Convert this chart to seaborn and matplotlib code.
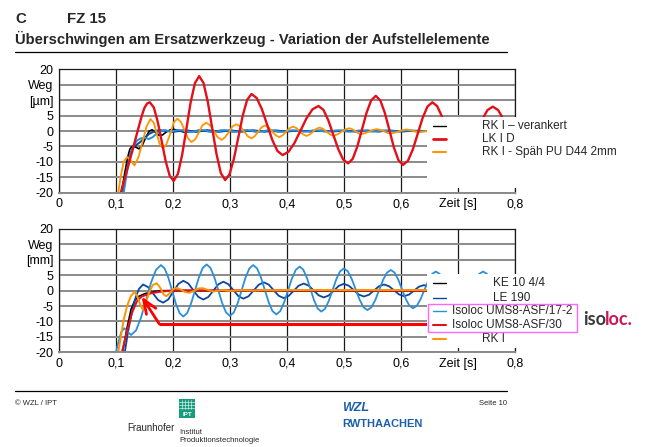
import matplotlib
matplotlib.use("Agg")
import matplotlib.pyplot as plt
import seaborn as sns
import pandas as pd
from matplotlib.patches import Rectangle
from matplotlib.lines import Line2D

# === Data ===
# upper chart, Weg in µm over Zeit in s
top_black_t = [0.109, 0.115, 0.120, 0.124, 0.128, 0.134, 0.140, 0.146, 0.152, 0.158, 0.163, 0.168, 0.175,
               0.181, 0.188, 0.195, 0.202, 0.210, 0.220, 0.230, 0.245, 0.265, 0.285, 0.305, 0.325, 0.345,
               0.365, 0.385, 0.405, 0.425, 0.445, 0.465, 0.485, 0.505, 0.525, 0.545, 0.565, 0.585, 0.605,
               0.625, 0.645]
top_black_v = [-20, -13.5, -8.5, -5.8, -5.0, -5.2, -5.8, -4.5, -2.0, 0.0, 0.4, -0.3, -1.4,
               -1.3, -0.3, 0.4, 0.5, 0.1, -0.4, -0.2, 0.2, -0.2, 0.2, -0.2, 0.2, -0.2,
               0.1, -0.2, 0.1, -0.1, 0.1, -0.1, 0.1, -0.1, 0.1, -0.1, 0.1, -0.1, 0.1,
               -0.1, 0.0]

top_dblue_t = [0.112, 0.118, 0.124, 0.130, 0.136, 0.142, 0.150, 0.158, 0.166, 0.175, 0.185, 0.200,
               0.220, 0.240, 0.260, 0.280, 0.300, 0.320, 0.340, 0.360, 0.380, 0.400, 0.420, 0.440,
               0.460, 0.480, 0.500, 0.520, 0.540, 0.560, 0.580, 0.600, 0.620, 0.645]
top_dblue_v = [-20, -13, -7.5, -5.2, -4.4, -3.6, -2.2, -0.9, -0.2, 0.3, 0.1, -0.3,
               0.3, -0.3, 0.3, -0.3, 0.25, -0.25, 0.25, -0.25, 0.2, -0.2, 0.2, -0.2,
               0.2, -0.2, 0.2, -0.2, 0.2, -0.2, 0.2, -0.2, 0.1, 0.0]

top_lblue_t = [0.113, 0.119, 0.125, 0.131, 0.137, 0.143, 0.150, 0.157, 0.164, 0.171, 0.178, 0.186,
               0.195, 0.210, 0.230, 0.250, 0.270, 0.290, 0.310, 0.330, 0.350, 0.370, 0.390, 0.410,
               0.430, 0.450, 0.470, 0.490, 0.510, 0.530, 0.550, 0.570, 0.590, 0.610, 0.630, 0.645]
top_lblue_v = [-20, -13, -7.5, -4.5, -3.0, -2.4, -2.2, -2.6, -2.0, -0.8, -0.1, 0.3,
               -0.2, 0.35, -0.35, 0.35, -0.35, 0.3, -0.3, 0.3, -0.3, 0.3, -0.3, 0.25,
               -0.25, 0.25, -0.25, 0.25, -0.25, 0.2, -0.2, 0.2, -0.2, 0.2, -0.1, 0.0]

top_orange_t = [0.1035, 0.108, 0.113, 0.119, 0.125, 0.132, 0.139, 0.146, 0.153, 0.160, 0.166, 0.171,
                0.176, 0.182, 0.188, 0.195, 0.201, 0.2075, 0.214, 0.220, 0.226, 0.232, 0.239, 0.245,
                0.251, 0.258, 0.265, 0.2715, 0.278, 0.285, 0.291, 0.298, 0.304, 0.311, 0.318, 0.324,
                0.331, 0.3375, 0.343, 0.349, 0.355, 0.361, 0.367, 0.3735, 0.380, 0.386, 0.392, 0.398,
                0.404, 0.4105, 0.416, 0.422, 0.428, 0.434, 0.440, 0.4455, 0.451, 0.457, 0.463, 0.469,
                0.475, 0.481, 0.488, 0.495, 0.502, 0.509, 0.514, 0.5195, 0.525, 0.530, 0.537, 0.5435,
                0.550, 0.557, 0.563, 0.570, 0.576, 0.583, 0.590, 0.5965, 0.603, 0.610, 0.620, 0.630,
                0.640, 0.647]
top_orange_v = [-20, -14.5, -10.0, -8.4, -9.5, -11.2, -8.5, -3.6, 1.4, 3.9, 2.6, -0.9,
                -4.1, -5.7, -4.3, -0.8, 2.8, 4.0, 2.8, 0.2, -2.4, -3.6, -2.6, -0.5,
                1.8, 2.7, 1.8, -0.1, -2.0, -2.9, -2.0, -0.3, 1.5, 2.2, 1.5, -0.1,
                -1.7, -2.4, -1.7, -0.3, 1.2, 1.8, 1.2, -0.1, -1.4, -2.0, -1.4, -0.3,
                0.9, 1.4, 1.0, -0.1, -1.1, -1.6, -1.1, -0.2, 0.7, 1.1, 0.7, -0.2,
                -1.1, -1.6, -1.1, -0.3, 0.5, 0.9, 0.6, 0.0, -0.7, -1.0, -0.7, -0.2,
                0.3, 0.6, 0.4, -0.1, -0.6, -0.8, -0.5, -0.1, 0.3, 0.5, 0.1, -0.4,
                -0.2, 0.0]

top_red_t = [0.108, 0.118, 0.128, 0.1375, 0.144, 0.149, 0.154, 0.159,
             0.1660, 0.1729, 0.1799, 0.1868, 0.1938, 0.2007,
             0.2082, 0.2157, 0.2232, 0.2306, 0.2381, 0.2456,
             0.2532, 0.2608, 0.2684, 0.2760, 0.2836, 0.2912,
             0.2989, 0.3066, 0.3144, 0.3221, 0.3298, 0.3375,
             0.3466, 0.3557, 0.3648, 0.3738, 0.3829, 0.3920,
             0.4025, 0.4130, 0.4235, 0.4340, 0.4445, 0.4550,
             0.4637, 0.4723, 0.4810, 0.4897, 0.4983, 0.5070,
             0.5151, 0.5232, 0.5313, 0.5394, 0.5475, 0.5556,
             0.5636, 0.5716, 0.5796, 0.5875, 0.5955, 0.6035,
             0.6121, 0.6207, 0.6293, 0.6378, 0.6464, 0.6550,
             0.6633, 0.6717, 0.6800, 0.6883, 0.6967, 0.7050,
             0.7143, 0.7237, 0.7330, 0.7423, 0.7517, 0.7610,
             0.7703, 0.7797, 0.7890, 0.7983, 0.8000]
top_red_v = [-20, -13.3, -6.6, 0.0, 4.4, 7.3, 8.9, 9.3,
             7.59, 2.93, -3.45, -9.83, -14.49, -16.2,
             -13.92, -7.7, 0.8, 9.3, 15.52, 17.8,
             15.54, 9.38, 0.95, -7.48, -13.64, -15.9,
             -14.03, -8.93, -1.95, 5.03, 10.13, 12.0,
             10.67, 7.05, 2.1, -2.85, -6.47, -7.8,
             -6.73, -3.83, 0.15, 4.13, 7.03, 8.1,
             6.85, 3.45, -1.2, -5.85, -9.25, -10.5,
             -9.03, -5.03, 0.45, 5.93, 9.93, 11.4,
             9.9, 5.8, 0.2, -5.4, -9.5, -11.0,
             -9.64, -5.93, -0.85, 4.23, 7.94, 9.3,
             8.07, 4.73, 0.15, -4.43, -7.77, -9.0,
             -7.87, -4.78, -0.55, 3.68, 6.77, 7.9,
             6.8, 3.8, -0.3, -4.4, -5.0]

# lower chart, Weg in mm over Zeit in s
bot_black_t = [0.111, 0.119, 0.126, 0.133, 0.140, 0.150, 0.165, 0.180, 0.645]
bot_black_v = [-20, -12, -6, -3, -1.8, -1.0, -0.3, 0.0, 0.0]

bot_dblue_t = [0.115, 0.121, 0.128, 0.134, 0.140, 0.147,
               0.1558, 0.1647, 0.1735, 0.1823, 0.1912, 0.2000, 0.2089, 0.2177,
               0.2265, 0.2353, 0.2440, 0.2528, 0.2616, 0.2704, 0.2792, 0.2880,
               0.2968, 0.3057, 0.3145, 0.3233, 0.3322, 0.3412, 0.3501, 0.3590,
               0.3677, 0.3764, 0.3851, 0.3938, 0.4026, 0.4114, 0.4202, 0.4290,
               0.4378, 0.4467, 0.4555, 0.4643, 0.4731, 0.4819, 0.4907, 0.4995,
               0.5083, 0.5172, 0.5260, 0.5348, 0.5436, 0.5524, 0.5612, 0.5700,
               0.5788, 0.5877, 0.5965, 0.6053, 0.6140, 0.6227, 0.6313, 0.6400,
               0.6500]
bot_dblue_v = [-20, -13, -6.5, -2.2, 0.6, 2.0,
               1.14, -0.95, -3.04, -3.9, -2.86, -0.35, 2.16, 3.2,
               2.31, 0.15, -2.01, -2.9, -2.05, 0.0, 2.05, 2.9,
               2.09, 0.15, -1.79, -2.6, -1.82, 0.05, 1.92, 2.7,
               1.95, 0.15, -1.65, -2.4, -1.71, -0.05, 1.61, 2.3,
               1.64, 0.05, -1.54, -2.2, -1.56, 0.0, 1.56, 2.2,
               1.6, 0.15, -1.3, -1.9, -1.33, 0.05, 1.43, 2.0,
               1.44, 0.1, -1.24, -1.8, -1.27, 0.0, 1.27, 1.8,
               1.3]

bot_lblue_t = [0.0995, 0.104, 0.109, 0.114, 0.120, 0.126,
               0.1348, 0.1435, 0.1523, 0.1610, 0.1698, 0.1785,
               0.1850, 0.1916, 0.1981, 0.2046, 0.2112, 0.2177,
               0.2245, 0.2313, 0.2382, 0.2450, 0.2518, 0.2586,
               0.2654, 0.2722, 0.2791, 0.2859, 0.2927, 0.2995,
               0.3063, 0.3131, 0.3200, 0.3268, 0.3336, 0.3404,
               0.3472, 0.3540, 0.3607, 0.3675, 0.3742, 0.3810,
               0.3878, 0.3947, 0.4015, 0.4083, 0.4152, 0.4220,
               0.4283, 0.4347, 0.4410, 0.4473, 0.4537, 0.4600,
               0.4666, 0.4732, 0.4798, 0.4863, 0.4929, 0.4995,
               0.5064, 0.5133, 0.5203, 0.5272, 0.5341, 0.5410,
               0.5478, 0.5547, 0.5615, 0.5683, 0.5752, 0.5820,
               0.5885, 0.5950, 0.6015, 0.6080, 0.6145, 0.6210,
               0.6277, 0.6343, 0.6410, 0.6477, 0.6543, 0.6610,
               0.6678, 0.6747, 0.6815, 0.6883, 0.6952, 0.7020,
               0.7090, 0.7160, 0.7230, 0.7300, 0.7370, 0.7440,
               0.7508, 0.7577, 0.7645, 0.7713, 0.7782, 0.7850,
               0.7920, 0.8000]
bot_lblue_v = [-20, -16.5, -13.3, -12.2, -13.3, -14.4,
               -12.88, -8.73, -3.05, 2.63, 6.78, 8.3,
               7.18, 4.13, -0.05, -4.23, -7.28, -8.4,
               -7.27, -4.18, 0.05, 4.28, 7.37, 8.5,
               7.38, 4.33, 0.15, -4.03, -7.08, -8.2,
               -7.09, -4.08, 0.05, 4.18, 7.19, 8.3,
               7.23, 4.3, 0.3, -3.7, -6.63, -7.7,
               -6.66, -3.83, 0.05, 3.93, 6.76, 7.8,
               6.82, 4.15, 0.5, -3.15, -5.82, -6.8,
               -5.86, -3.3, 0.2, 3.7, 6.26, 7.2,
               6.3, 3.83, 0.45, -2.93, -5.4, -6.3,
               -5.43, -3.05, 0.2, 3.45, 5.83, 6.7,
               5.87, 3.6, 0.5, -2.6, -4.87, -5.7,
               -4.9, -2.73, 0.25, 3.23, 5.4, 6.2,
               5.42, 3.3, 0.4, -2.5, -4.62, -5.4,
               -4.62, -2.5, 0.4, 3.3, 5.42, 6.2,
               5.44, 3.35, 0.5, -2.35, -4.44, -5.2,
               -4.4, -2.0]

bot_red_t = [0.110, 0.119, 0.128, 0.136, 0.1445, 0.152, 0.162, 0.175, 0.190, 0.210, 0.645]
bot_red_v = [-20, -13, -7, -3.5, -1.9, -1.4, -0.8, -0.4, -0.1, 0.1, 0.0]

bot_orange_t = [0.1035, 0.108, 0.113, 0.119, 0.1255, 0.132, 0.137, 0.142, 0.147, 0.152, 0.158, 0.164,
                0.171, 0.177, 0.183, 0.188, 0.194, 0.200, 0.206, 0.213, 0.220, 0.228, 0.236, 0.244,
                0.252, 0.260, 0.270, 0.285, 0.300, 0.320, 0.340, 0.360, 0.380, 0.400, 0.645]
bot_orange_v = [-20, -15, -9.5, -5, -1.8, -0.4, -1.8, -4.5, -6.3, -4.0, -0.5, 1.8,
                2.4, 1.0, -1.2, -1.8, -0.8, 0.5, 0.9, 0.4, -0.4, -0.7, -0.1, 0.7,
                0.8, 0.3, -0.3, 0.2, -0.1, 0.2, 0.0, 0.2, 0.1, 0.2, 0.2]

# red arrow from the legend entry to the Isoloc UMS8-ASF/30 curve
arrow_t = [0.645, 0.1755, 0.1445]
arrow_v = [-10.8, -10.8, -1.9]

x_ticks = [0, 0.1, 0.2, 0.3, 0.4, 0.5, 0.6, 0.7, 0.8]
x_labels = ["0", "0,1", "0,2", "0,3", "0,4", "0,5", "0,6", "Zeit [s]", "0,8"]
y_ticks = [-20, -15, -10, -5, 0, 5, 10, 15, 20]
y_labels_top = ["-20", "-15", "-10", "-5", "0", "5", "[µm]", "Weg", "20"]
y_labels_bot = ["-20", "-15", "-10", "-5", "0", "5", "[mm]", "Weg", "20"]

top_labels = ["RK I – verankert", "LK I D", "RK I - Späh PU D44 2mm"]
bot_labels = ["KE 10 4/4", "LE 190", "Isoloc UMS8-ASF/17-2", "Isoloc UMS8-ASF/30", "RK I"]

BLACK = "#000000"
RED = "#e3101a"
ORANGE = "#ff9500"
LBLUE = "#2b8fd8"
DBLUE = "#0a47a0"
ARROW_RED = "#ff0000"

sns.set_theme(style="white")
plt.rcParams["font.family"] = ["Liberation Sans", "DejaVu Sans"]

W, H = 654, 447
fig = plt.figure(figsize=(W / 100, H / 100), dpi=100)


def fx(x):
    return x / W


def fy(y):
    return 1 - y / H


def px_rect(x0, y0, x1, y1):
    return [fx(x0), fy(y1), (x1 - x0) / W, (y1 - y0) / H]


def series(t, v, name):
    return pd.DataFrame({"t": t, "v": v, "series": name})


def style_axes(ax, ylabels):
    ax.set_xlim(0, 0.8)
    ax.set_ylim(-20, 20)
    ax.set_xticks(x_ticks)
    ax.set_xticklabels(x_labels, fontsize=9)
    ax.set_yticks(y_ticks)
    ax.set_yticklabels(ylabels, fontsize=9)
    ax.set_xlabel("")
    ax.set_ylabel("")
    ax.set_axisbelow(True)
    ax.yaxis.grid(True, color="#8a8a8a", lw=1.4)
    ax.xaxis.grid(True, color="#1a1a1a", lw=0.9)
    ax.tick_params(length=0, pad=4, colors="black")
    for side in ["top", "left", "right"]:
        ax.spines[side].set_color("#1a1a1a")
        ax.spines[side].set_linewidth(0.9)
    ax.spines["bottom"].set_color("#8a8a8a")
    ax.spines["bottom"].set_linewidth(1.4)


def draw(ax, t, v, name, color, lw):
    sns.lineplot(data=series(t, v, name), x="t", y="v", sort=False, estimator=None,
                 color=color, linewidth=lw, ax=ax, legend=False)


# === Upper chart ===
ax1 = fig.add_axes(px_rect(59.3, 69.3, 515, 192.7))
draw(ax1, top_black_t, top_black_v, "black", BLACK, 1.2)
draw(ax1, top_dblue_t, top_dblue_v, "dblue", DBLUE, 1.4)
draw(ax1, top_lblue_t, top_lblue_v, "lblue", LBLUE, 1.4)
draw(ax1, top_orange_t, top_orange_v, top_labels[2], ORANGE, 1.3)
draw(ax1, top_red_t, top_red_v, top_labels[1], RED, 1.7)
style_axes(ax1, y_labels_top)

# === Lower chart ===
ax2 = fig.add_axes(px_rect(59.3, 229, 515, 352.3))
draw(ax2, bot_black_t, bot_black_v, bot_labels[0], BLACK, 1.2)
draw(ax2, bot_dblue_t, bot_dblue_v, bot_labels[1], DBLUE, 1.3)
draw(ax2, bot_lblue_t, bot_lblue_v, bot_labels[2], LBLUE, 1.3)
draw(ax2, bot_red_t, bot_red_v, bot_labels[3], RED, 1.5)
draw(ax2, bot_orange_t, bot_orange_v, bot_labels[4], ORANGE, 1.4)
ax2.plot(arrow_t[:2], arrow_v[:2], color=ARROW_RED, lw=2.2, solid_capstyle="butt")
ax2.annotate("", xy=(arrow_t[2], arrow_v[2]), xytext=(arrow_t[1], arrow_v[1]),
             arrowprops=dict(arrowstyle="->,head_length=0.5,head_width=0.2", color=ARROW_RED,
                             lw=2.0, mutation_scale=20, shrinkA=0, shrinkB=0))
style_axes(ax2, y_labels_bot)

# === Legends (white boxes over the right part of the charts) ===
fig.add_artist(Rectangle((fx(427), fy(188)), (625 - 427) / W, (188 - 117) / H,
                         transform=fig.transFigure, facecolor="white", edgecolor="none", zorder=2))
fig.add_artist(Rectangle((fx(427), fy(348)), (580 - 427) / W, (348 - 274) / H,
                         transform=fig.transFigure, facecolor="white", edgecolor="none", zorder=2))


def legend_row(y, label, color, lw, text_x):
    fig.add_artist(Line2D([fx(433), fx(446)], [fy(y), fy(y)], transform=fig.transFigure,
                          color=color, lw=lw, zorder=3))
    fig.text(fx(text_x), fy(y), label, ha="left", va="center", fontsize=8.5, zorder=3)


legend_row(125.7, top_labels[0], BLACK, 1.0, 481.7)
legend_row(139.0, top_labels[1], RED, 2.0, 481.7)
legend_row(152.3, top_labels[2], ORANGE, 1.5, 481.7)

legend_row(283.3, bot_labels[0], BLACK, 1.0, 493.3)
legend_row(297.7, bot_labels[1], DBLUE, 1.0, 493.3)
legend_row(311.0, bot_labels[2], LBLUE, 1.0, 452.5)
legend_row(325.0, bot_labels[3], RED, 1.5, 452.5)
legend_row(339.3, bot_labels[4], ORANGE, 1.5, 481.7)
fig.add_artist(Rectangle((fx(428.3), fy(331.7)), (577.3 - 428.3) / W, (331.7 - 304) / H,
                         transform=fig.transFigure, facecolor="none", edgecolor="#ff66ff",
                         lw=1.0, zorder=4))

# isoloc logo
fig.text(fx(583), fy(319.5), "iso", ha="left", va="center", fontsize=13, fontweight="bold",
         color="#3a3a3a", family=["Lato", "DejaVu Sans"])
fig.text(fx(605), fy(319.5), "loc.", ha="left", va="center", fontsize=13, fontweight="bold",
         color="#c8175d", family=["Lato", "DejaVu Sans"])

# === Title ===
title_font = ["Liberation Sans", "DejaVu Sans"]
fig.text(fx(15), fy(19), "C", ha="left", va="center", fontsize=10.8, fontweight="bold", family=title_font)
fig.text(fx(66.7), fy(19), "FZ 15", ha="left", va="center", fontsize=10.8, fontweight="bold", family=title_font)
fig.text(fx(15), fy(38.5), "Überschwingen am Ersatzwerkzeug - Variation der Aufstellelemente",
         ha="left", va="center", fontsize=10.6, fontweight="bold", family=title_font)
fig.add_artist(Line2D([fx(15), fx(507)], [fy(51.7), fy(51.7)], transform=fig.transFigure,
                      color="black", lw=0.9))

# === Footer ===
fig.add_artist(Line2D([fx(15), fx(507)], [fy(391), fy(391)], transform=fig.transFigure,
                      color="black", lw=0.9))
fig.text(fx(15), fy(403.5), "© WZL / IPT", ha="left", va="center", fontsize=5.5)
fig.text(fx(507), fy(403.5), "Seite 10", ha="right", va="center", fontsize=5.5)

fig.add_artist(Rectangle((fx(179), fy(418)), 16 / W, 19 / H, transform=fig.transFigure,
                         facecolor="#179c7d", edgecolor="none"))
for gx in [182, 185, 188, 191]:
    fig.add_artist(Line2D([fx(gx), fx(gx)], [fy(400), fy(409)], transform=fig.transFigure,
                          color="white", lw=0.4))
for gy in [402, 405, 408]:
    fig.add_artist(Line2D([fx(179), fx(195)], [fy(gy), fy(gy)], transform=fig.transFigure,
                          color="white", lw=0.4))
fig.text(fx(187), fy(414), "IPT", ha="center", va="center", fontsize=4.5, color="white", fontweight="bold")
fig.text(fx(175), fy(428), "Fraunhofer", ha="right", va="center", fontsize=7)
fig.text(fx(179), fy(432), "Institut", ha="left", va="center", fontsize=5.5)
fig.text(fx(179), fy(440.5), "Produktionstechnologie", ha="left", va="center", fontsize=5.5)

fig.text(fx(342), fy(408), "WZL", ha="left", va="center", fontsize=9, fontweight="bold",
         fontstyle="italic", color="#1b5fab")
fig.text(fx(342), fy(424), "RWTHAACHEN", ha="left", va="center", fontsize=8, fontweight="bold",
         color="#1b5fab", family=title_font)

fig.savefig("out.png", dpi=100, facecolor="white")
